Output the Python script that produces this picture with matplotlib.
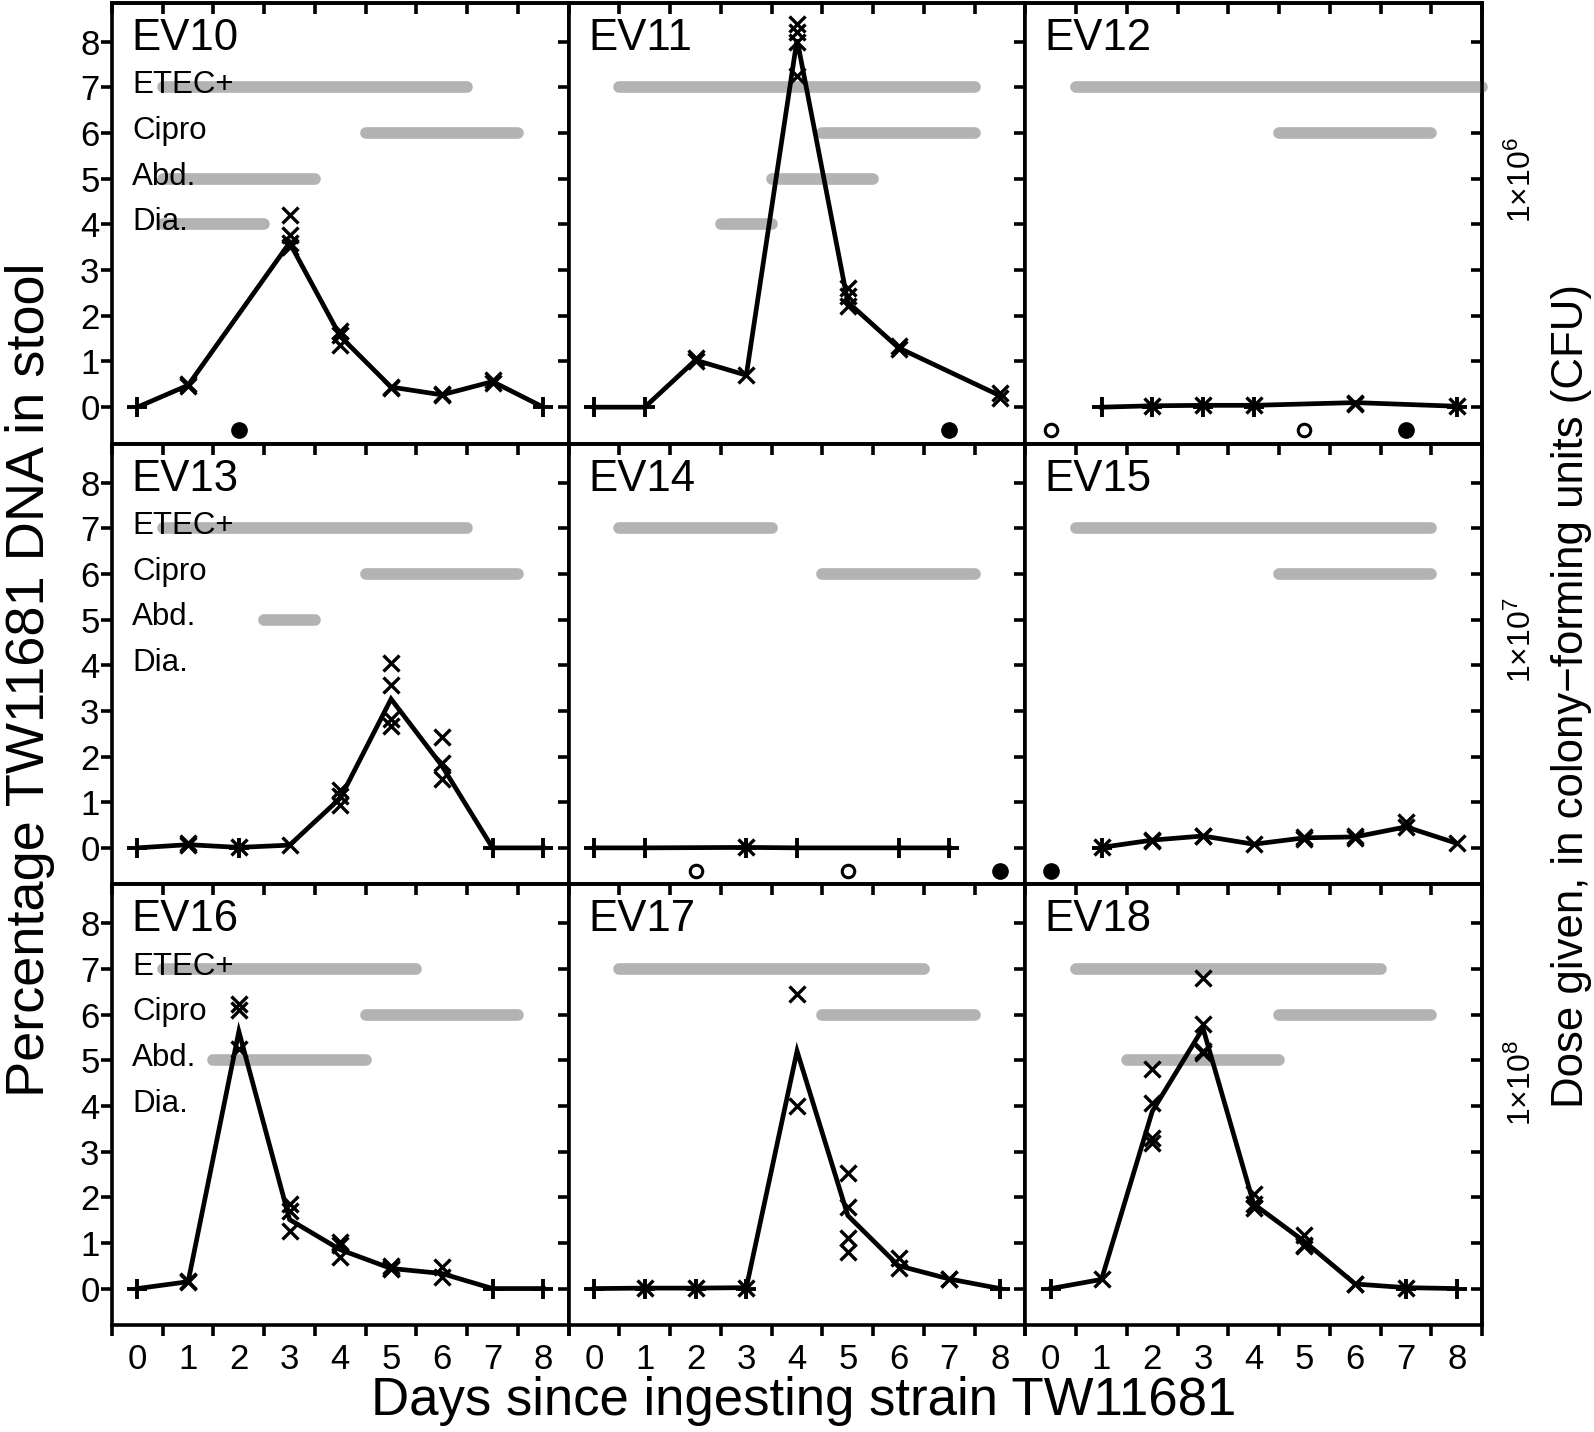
import matplotlib.pyplot as plt
from matplotlib import font_manager

# ---- data ----
names = ["EV10", "EV11", "EV12", "EV13", "EV14", "EV15", "EV16", "EV17", "EV18"]

# mean line per volunteer
line_days = [
    [0, 1, 3, 4, 5, 6, 7, 8],
    [0, 1, 2, 3, 4, 5, 6, 8],
    [1, 2, 3, 4, 6, 8],
    [0, 1, 2, 3, 4, 5, 6, 7, 8],
    [0, 1, 3, 4, 6, 7],
    [1, 2, 3, 4, 5, 6, 7, 8],
    [0, 1, 2, 3, 4, 5, 6, 7, 8],
    [0, 1, 2, 3, 4, 5, 6, 7, 8],
    [0, 1, 2, 3, 4, 5, 6, 7, 8],
]
line_vals = [
    [0, 0.48, 3.6, 1.55, 0.44, 0.27, 0.56, 0],
    [0, 0, 1.03, 0.7, 8.05, 2.3, 1.3, 0.25],
    [0, 0.03, 0.04, 0.04, 0.1, 0.02],
    [0, 0.07, 0.01, 0.06, 1.09, 3.26, 1.8, 0, 0],
    [0, 0, 0.01, 0, 0, 0],
    [0.01, 0.17, 0.26, 0.08, 0.22, 0.24, 0.46, 0.1],
    [0, 0.15, 5.63, 1.51, 0.85, 0.44, 0.33, 0, 0],
    [0, 0.01, 0.01, 0.02, 5.2, 1.6, 0.5, 0.21, 0],
    [0, 0.2, 3.88, 5.7, 1.85, 1.03, 0.1, 0.02, 0],
]

# replicate measurements (0 drawn as "+")
rep_days = [
    [0, 1, 1, 3, 3, 3, 3, 4, 4, 4, 5, 5, 6, 6, 7, 7, 8],
    [0, 1, 2, 2, 3, 4, 4, 4, 4, 5, 5, 5, 6, 6, 8, 8],
    [1, 2, 2, 3, 3, 4, 4, 6, 6, 8, 8],
    [0, 1, 1, 2, 2, 3, 4, 4, 4, 5, 5, 5, 5, 6, 6, 6, 7, 8],
    [0, 1, 3, 3, 4, 6, 7],
    [1, 1, 2, 2, 3, 3, 4, 5, 5, 6, 6, 7, 7, 8],
    [0, 1, 1, 2, 2, 2, 3, 3, 3, 4, 4, 4, 5, 5, 5, 6, 6, 7, 8],
    [0, 1, 1, 2, 2, 3, 3, 4, 4, 5, 5, 5, 5, 6, 6, 7, 7, 8],
    [0, 1, 2, 2, 2, 2, 3, 3, 3, 3, 4, 4, 4, 5, 5, 5, 6, 6, 7, 7, 8],
]
rep_vals = [
    [0, 0.5, 0.46, 4.2, 3.76, 3.6, 3.5, 1.66, 1.58, 1.36, 0.45, 0.42, 0.28, 0.26, 0.59, 0.54, 0],
    [0, 0, 1.07, 1.0, 0.7, 8.4, 8.22, 8.0, 7.26, 2.62, 2.43, 2.22, 1.33, 1.28, 0.3, 0.2],
    [0, 0.03, 0, 0.04, 0, 0.04, 0, 0.1, 0.08, 0.03, 0],
    [0, 0.1, 0.06, 0.01, 0, 0.06, 1.27, 1.13, 0.94, 4.04, 3.56, 2.82, 2.67, 2.42, 1.86, 1.5, 0, 0],
    [0, 0, 0.02, 0, 0, 0, 0],
    [0.02, 0, 0.17, 0.16, 0.27, 0.25, 0.08, 0.24, 0.2, 0.26, 0.22, 0.57, 0.45, 0.1],
    [0, 0.16, 0.14, 6.24, 6.09, 5.24, 1.85, 1.7, 1.26, 1.03, 0.95, 0.7, 0.5, 0.45, 0.42, 0.48, 0.26, 0, 0],
    [0, 0.01, 0, 0.01, 0, 0.02, 0, 6.45, 3.99, 2.52, 1.78, 1.11, 0.81, 0.66, 0.44, 0.22, 0.2, 0],
    [0, 0.21, 4.8, 4.06, 3.29, 3.18, 6.79, 5.8, 5.2, 5.15, 2.07, 1.85, 1.77, 1.18, 0.96, 0.93, 0.11, 0.09, 0.02, 0, 0],
]

# days with no sample (filled) / no stool (open)
filled_days = [[2], [7], [7], [], [8], [0], [], [], []]
open_days = [[], [], [0, 5], [], [2, 5], [], [], [], []]

# grey bars: ETEC+ (7), Cipro (6), Abd. (5), Dia. (4)
bar_levels = [
    [7, 6, 5, 4], [7, 6, 5, 4], [7, 6], [7, 6, 5], [7, 6], [7, 6], [7, 6, 5], [7, 6], [7, 6, 5],
]
bar_starts = [
    [0.5, 4.5, 0.5, 0.5], [0.5, 4.5, 3.5, 2.5], [0.5, 4.5], [0.5, 4.5, 2.5], [0.5, 4.5],
    [0.5, 4.5], [0.5, 4.5, 1.5], [0.5, 4.5], [0.5, 4.5, 1.5],
]
bar_ends = [
    [6.5, 7.5, 3.5, 2.5], [7.5, 7.5, 5.5, 3.5], [8.5, 7.5], [6.5, 7.5, 3.5], [3.5, 7.5],
    [7.5, 7.5], [5.5, 7.5, 4.5], [6.5, 7.5], [6.5, 7.5, 4.5],
]

symptom_labels = ["ETEC+", "Cipro", "Abd.", "Dia."]
symptom_levels = [7, 6, 5, 4]
dose_labels = ["1×10$^6$", "1×10$^7$", "1×10$^8$"]
day_ticks = list(range(9))
pct_ticks = list(range(9))

# ---- fonts ----
installed = {f.name for f in font_manager.fontManager.ttflist}
narrow = "Liberation Sans Narrow" if "Liberation Sans Narrow" in installed else "Liberation Sans"
plt.rcParams["font.family"] = ["Liberation Sans", "DejaVu Sans"]
plt.rcParams["mathtext.fontset"] = "custom"
plt.rcParams["mathtext.rm"] = narrow
plt.rcParams["mathtext.it"] = narrow

W, H = 1594, 1432
fig = plt.figure(figsize=(W / 100, H / 100), dpi=100)

left_px, top_px = 112, 3
col_w, row_h = 456.7, 440.7
grey = "#b3b3b3"
lw_spine = 2.6
half_days = [d - 0.5 for d in range(10)]

for i, name in enumerate(names):
    r, c = divmod(i, 3)
    ax = fig.add_axes([(left_px + c * col_w) / W, 1 - (top_px + (r + 1) * row_h) / H,
                       col_w / W, row_h / H])
    ax.set_xlim(-0.5, 8.5)
    ax.set_ylim(-0.8, 8.85)

    for lev, a, b in zip(bar_levels[i], bar_starts[i], bar_ends[i]):
        ax.plot([a, b], [lev, lev], color=grey, lw=8.4, solid_capstyle="round",
                zorder=1, clip_on=False)

    ax.plot(line_days[i], line_vals[i], color="black", lw=3.4, solid_joinstyle="miter", zorder=3)

    pos_d = [d for d, v in zip(rep_days[i], rep_vals[i]) if v > 0]
    pos_v = [v for v in rep_vals[i] if v > 0]
    zero_d = [d for d, v in zip(rep_days[i], rep_vals[i]) if v == 0]
    ax.plot(pos_d, pos_v, ls="none", marker="x", ms=12, mew=2.4, color="black", zorder=4)
    ax.plot(zero_d, [0] * len(zero_d), ls="none", marker="+", ms=15, mew=2.8, color="black", zorder=4)
    ax.plot(filled_days[i], [-0.5] * len(filled_days[i]), ls="none", marker="o", ms=11,
            color="black", zorder=4)
    ax.plot(open_days[i], [-0.5] * len(open_days[i]), ls="none", marker="o", ms=9, mew=2.2,
            mfc="white", mec="black", zorder=4)

    ax.text(-0.12, 7.82, name, fontsize=31.5, va="baseline", ha="left", zorder=5)
    if c == 0:
        for lab, lev in zip(symptom_labels, symptom_levels):
            ax.text(-0.1, lev + 0.05, lab, fontsize=22.5, va="center", ha="left", zorder=5)

    # ticks
    ax.set_xticks(day_ticks)
    ax.set_xticks(half_days, minor=True)
    ax.tick_params(axis="x", which="major", length=0, pad=13, labelsize=25,
                   labelbottom=(r == 2), labelfontfamily=narrow)
    ax.tick_params(axis="x", which="minor", direction="out", length=8, width=lw_spine,
                   bottom=(r == 2), top=False)
    ax.set_yticks(pct_ticks)
    ax.tick_params(axis="y", which="major", direction="out", length=8, width=lw_spine,
                   left=(c == 0), labelleft=(c == 0), labelsize=25, pad=1,
                   labelfontfamily=narrow)
    for sp in ax.spines.values():
        sp.set_linewidth(lw_spine)

    top = ax.secondary_xaxis("top")
    top.set_xticks(half_days)
    top.tick_params(direction="in", length=8, width=lw_spine, labeltop=False)
    top.spines["top"].set_linewidth(lw_spine)
    right = ax.secondary_yaxis("right")
    right.set_yticks(pct_ticks)
    right.tick_params(direction="in", length=8, width=lw_spine, labelright=False)
    right.spines["right"].set_linewidth(lw_spine)

# axis titles
fig.text(30 / W, 1 - 680 / H, "Percentage TW11681 DNA in stool", rotation=90,
         fontsize=39, ha="center", va="center")
fig.text(804 / W, 1 - 1401 / H, "Days since ingesting strain TW11681",
         fontsize=38, ha="center", va="center")
fig.text(1571 / W, 1 - 696 / H, "Dose given, in colony\u2212forming units (CFU)", rotation=90,
         fontsize=31.5, ha="center", va="center", family=[narrow, "DejaVu Sans"])
for lab, ypx in zip(dose_labels, [180, 640, 1083]):
    fig.text(1522 / W, 1 - ypx / H, lab, rotation=90, fontsize=23, ha="center", va="center",
             family=[narrow, "DejaVu Sans"])

fig.savefig("out.png", dpi=100)
